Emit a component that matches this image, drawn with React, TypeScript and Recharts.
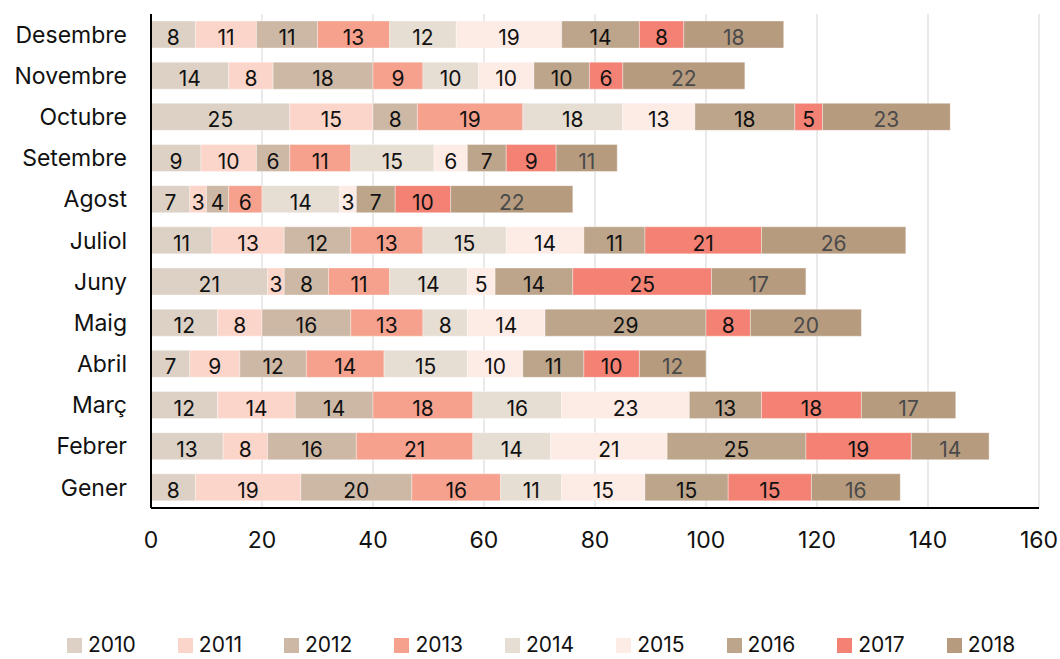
import React from 'react';
import { BarChart, Bar, XAxis, YAxis, CartesianGrid, Legend, LabelList } from 'recharts';

const months = ['Gener', 'Febrer', 'Març', 'Abril', 'Maig', 'Juny', 'Juliol', 'Agost', 'Setembre', 'Octubre', 'Novembre', 'Desembre'];
const years = ['2010', '2011', '2012', '2013', '2014', '2015', '2016', '2017', '2018'];

const v2010 = [8, 13, 12, 7, 12, 21, 11, 7, 9, 25, 14, 8];
const v2011 = [19, 8, 14, 9, 8, 3, 13, 3, 10, 15, 8, 11];
const v2012 = [20, 16, 14, 12, 16, 8, 12, 4, 6, 8, 18, 11];
const v2013 = [16, 21, 18, 14, 13, 11, 13, 6, 11, 19, 9, 13];
const v2014 = [11, 14, 16, 15, 8, 14, 15, 14, 15, 18, 10, 12];
const v2015 = [15, 21, 23, 10, 14, 5, 14, 3, 6, 13, 10, 19];
const v2016 = [15, 25, 13, 11, 29, 14, 11, 7, 7, 18, 10, 14];
const v2017 = [15, 19, 18, 10, 8, 25, 21, 10, 9, 5, 6, 8];
const v2018 = [16, 14, 17, 12, 20, 17, 26, 22, 11, 23, 22, 18];

const xTicks = [0, 20, 40, 60, 80, 100, 120, 140, 160];

const seriesValues = [v2010, v2011, v2012, v2013, v2014, v2015, v2016, v2017, v2018];
const colors = ['#ddd1c6', '#fbd5c9', '#cdb8a5', '#f5a18d', '#e6ddd3', '#fdebe5', '#bca58b', '#f38274', '#b69b7f'];
const labelColors = ['#111', '#111', '#111', '#111', '#111', '#111', '#111', '#111', '#4a4a4a'];

const data = months.map((m, i) => {
  const row: Record<string, any> = { month: m };
  years.forEach((y, k) => {
    row[y] = seriesValues[k][i];
  });
  return row;
});

const FONT = 'Inter, "Noto Sans", sans-serif';

const makeLabel = (fill: string) => (props: any) => {
  const { x, y, width, height, value } = props;
  return (
    <text
      x={Number(x) + Number(width) / 2}
      y={Number(y) + Number(height) / 2 + 10.5}
      textAnchor="middle"
      fontSize={21}
      fontFamily={FONT}
      fill={fill}
    >
      {value}
    </text>
  );
};

const LegendContent = (props: any) => {
  const payload = props.payload || [];
  return (
    <div style={{ display: 'flex', alignItems: 'center', fontFamily: FONT, fontSize: 21, lineHeight: '26px', height: 26, color: '#111' }}>
      {payload.map((p: any) => (
        <div key={p.value} style={{ display: 'flex', alignItems: 'center', marginRight: 42 }}>
          <div style={{ width: 15, height: 15, background: p.color, marginRight: 6, marginTop: 1 }} />
          <span>{p.value}</span>
        </div>
      ))}
    </div>
  );
};

export default function App() {
  return (
    <div style={{ position: 'absolute', left: 0, top: 0, width: 1060, height: 659, overflow: 'hidden', background: '#fff', fontFamily: FONT }}>
      <BarChart
        width={1060}
        height={659}
        data={data}
        layout="vertical"
        margin={{ top: 14, right: 21, left: 0, bottom: 111 }}
        barSize={27}
      >
        <CartesianGrid horizontal={false} vertical stroke="#e3e3e3" strokeWidth={1.5} />
        <XAxis
          type="number"
          domain={[0, 160]}
          ticks={xTicks}
          height={40}
          axisLine={{ stroke: '#000', strokeWidth: 2 }}
          tickLine={false}
          tickSize={0}
          tickMargin={24}
          tick={{ fontSize: 23, fill: '#111', fontFamily: FONT }}
        />
        <YAxis
          type="category"
          dataKey="month"
          reversed
          width={151}
          axisLine={{ stroke: '#000', strokeWidth: 2 }}
          tickLine={false}
          tickSize={0}
          tickMargin={24}
          tick={{ fontSize: 23, fill: '#111', fontFamily: FONT }}
        />
        {years.map((y, k) => (
          <Bar
            key={y}
            dataKey={y}
            stackId="a"
            fill={colors[k]}
            stroke="#ffffff"
            strokeOpacity={0.35}
            strokeWidth={1}
            isAnimationActive={false}
          >
            <LabelList dataKey={y} content={makeLabel(labelColors[k])} />
          </Bar>
        ))}
        <Legend
          layout="horizontal"
          verticalAlign="middle"
          align="center"
          content={<LegendContent />}
          wrapperStyle={{ left: 67, top: 632, width: 1000, height: 26 }}
        />
      </BarChart>
    </div>
  );
}
